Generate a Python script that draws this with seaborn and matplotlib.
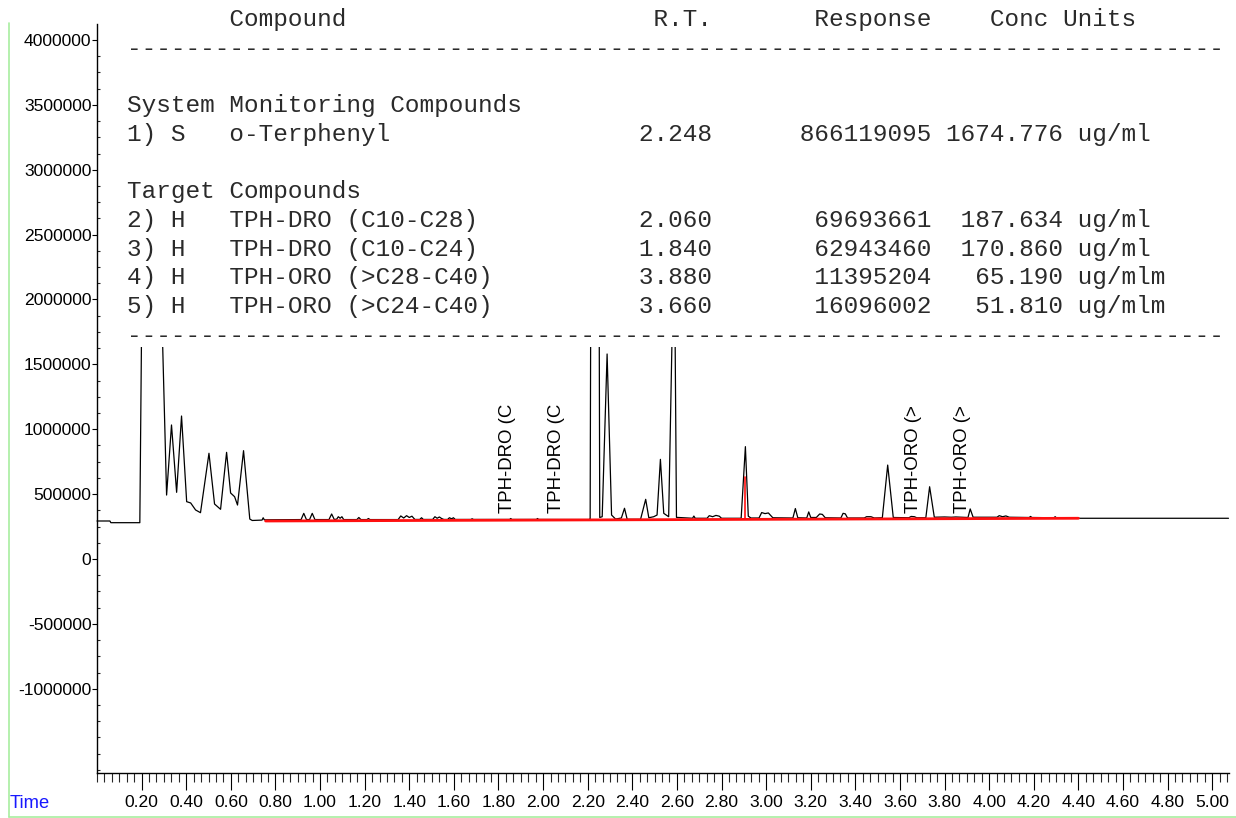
import matplotlib
matplotlib.use("Agg")
import numpy as np
import pandas as pd
import matplotlib.pyplot as plt
import seaborn as sns
from matplotlib import font_manager, ticker
from matplotlib.patches import Rectangle
from matplotlib.lines import Line2D

# ---------------------------------------------------------------- data
# Quantitation report
compound_no = [1, 2, 3, 4, 5]
compound_type = ["S", "H", "H", "H", "H"]
compound_name = ["o-Terphenyl", "TPH-DRO (C10-C28)", "TPH-DRO (C10-C24)",
                 "TPH-ORO (>C28-C40)", "TPH-ORO (>C24-C40)"]
ret_time = [2.248, 2.060, 1.840, 3.880, 3.660]
response = [866119095, 69693661, 62943460, 11395204, 16096002]
conc = [1674.776, 187.634, 170.860, 65.190, 51.810]
conc_units = ["ug/ml", "ug/ml", "ug/ml", "ug/mlm", "ug/mlm"]

# FID trace (time in min, response in counts), split by region
early_time = [0.000, 0.058, 0.062, 0.192, 0.201, 0.245, 0.289, 0.312, 0.334,
              0.357, 0.379, 0.402, 0.420, 0.442, 0.464, 0.502, 0.527, 0.554,
              0.581, 0.599, 0.617, 0.630, 0.657, 0.685, 0.696]
early_resp = [293000, 293000, 280000, 280000, 2000000, 9000000, 2000000, 493000,
              1033000, 514000, 1102000, 442000, 432000, 378000, 357000, 815000,
              424000, 383000, 822000, 509000, 480000, 416000, 835000, 308000,
              297000]

dro_time = [0.740, 0.745, 0.750, 0.915, 0.927, 0.939, 0.953, 0.965, 0.977,
            1.040, 1.052, 1.064, 1.075, 1.082, 1.090, 1.098, 1.106, 1.165,
            1.174, 1.183, 1.210, 1.217, 1.224, 1.350, 1.362, 1.375, 1.388,
            1.400, 1.412, 1.425, 1.447, 1.455, 1.463, 1.505, 1.515, 1.525,
            1.535, 1.545, 1.555, 1.572, 1.580, 1.590, 1.598, 1.606, 1.676,
            1.682, 1.688, 1.850, 1.855, 1.860, 1.970, 1.975, 1.980]
dro_resp = [300000, 318000, 302000, 304000, 352000, 304000, 304000, 352000,
            304000, 304000, 347000, 304000, 308000, 326000, 314000, 326000,
            304000, 304000, 320000, 304000, 304000, 312000, 304000, 304000,
            332000, 316000, 334000, 320000, 330000, 305000, 305000, 318000,
            305000, 305000, 326000, 314000, 324000, 312000, 305000, 305000,
            318000, 310000, 318000, 305000, 305000, 310000, 305000, 305000,
            312000, 305000, 305000, 312000, 305000]

surr_time = [2.206, 2.211, 2.216, 2.232, 2.249, 2.254, 2.265, 2.287, 2.307,
             2.325, 2.351, 2.365, 2.377, 2.437, 2.460, 2.474, 2.496, 2.511,
             2.526, 2.541, 2.563, 2.588, 2.598, 2.670, 2.676, 2.682]
surr_resp = [304000, 310000, 3500000, 8000000, 3500000, 320000, 326000, 1580000,
             339000, 308000, 316000, 391000, 306000, 306000, 460000, 318000,
             326000, 339000, 768000, 352000, 326000, 2600000, 321000, 314000,
             331000, 314000]

late_time = [2.735, 2.745, 2.760, 2.775, 2.790, 2.800, 2.888, 2.907, 2.920,
             2.932, 2.968, 2.980, 2.995, 3.010, 3.030, 3.120, 3.131, 3.142,
             3.182, 3.191, 3.200, 3.225, 3.240, 3.252, 3.265, 3.335, 3.345,
             3.355, 3.365, 3.440, 3.450, 3.470, 3.485, 3.521, 3.545, 3.570,
             3.640, 3.650, 3.665, 3.675, 3.716, 3.733, 3.754, 3.800, 3.830,
             3.850, 3.905, 3.915, 3.928, 4.035, 4.045, 4.060, 4.075, 4.090,
             4.180, 4.185, 4.192, 4.290, 4.296, 4.302, 4.400, 5.073]
late_resp = [314000, 334000, 326000, 336000, 330000, 314000, 314000, 866000,
             330000, 316000, 316000, 358000, 350000, 355000, 318000, 316000,
             389000, 318000, 316000, 363000, 320000, 320000, 347000, 344000,
             318000, 316000, 352000, 348000, 316000, 316000, 326000, 326000,
             316000, 318000, 724000, 320000, 318000, 328000, 326000, 318000,
             318000, 557000, 322000, 324000, 322000, 324000, 320000, 386000,
             322000, 322000, 334000, 326000, 332000, 322000, 320000, 328000,
             320000, 318000, 326000, 316000, 314000, 314000]

# integration baseline and DRO/ORO split
base_time = [0.756, 4.400]
base_resp = [293000, 314000]
split_time = [2.907, 2.907]
split_resp = [305000, 634000]

# display ceiling of the trace window
trace_ceiling = 1636000

# axis ticks
x_tick_labels = ["0.20", "0.40", "0.60", "0.80", "1.00", "1.20", "1.40", "1.60",
                 "1.80", "2.00", "2.20", "2.40", "2.60", "2.80", "3.00", "3.20",
                 "3.40", "3.60", "3.80", "4.00", "4.20", "4.40", "4.60", "4.80",
                 "5.00"]
y_tick_labels = ["4000000", "3500000", "3000000", "2500000", "2000000",
                 "1500000", "1000000", "500000", "0", "-500000", "-1000000"]

# ---------------------------------------------------------------- style
sns.set_style("ticks")
available = {f.name for f in font_manager.fontManager.ttflist}
if "Liberation Sans Narrow" in available:
    axis_font, axis_size = "Liberation Sans Narrow", 15.5
else:
    axis_font, axis_size = "Liberation Sans", 12.6
plt.rcParams["font.family"] = [axis_font, "DejaVu Sans"]
mono = ["Liberation Mono", "DejaVu Sans Mono"]

W, H = 1236, 818
fig = plt.figure(figsize=(W / 100, H / 100), dpi=100)
fig.patch.set_facecolor("white")
ax = fig.add_axes([97 / W, 45 / H, (1228.5 - 97) / W, (773 - 24) / H])
ax.set_facecolor("white")

trace = pd.DataFrame({
    "time": early_time + dro_time + surr_time + late_time,
    "response": early_resp + dro_resp + surr_resp + late_resp,
})
sns.lineplot(data=trace, x="time", y="response", ax=ax, color="black",
             linewidth=0.9, estimator=None, sort=False, zorder=3)
trace_line = ax.lines[-1]
trace_line.set_clip_path(Rectangle((-1, -3e6), 8, 3e6 + trace_ceiling,
                                   transform=ax.transData))

sns.lineplot(x=base_time, y=base_resp, ax=ax, color="#ff1010",
             linewidth=2.0, estimator=None, zorder=4)
sns.lineplot(x=split_time, y=split_resp, ax=ax, color="#ff1010",
             linewidth=1.2, estimator=None, sort=False, zorder=4)

ax.set_xlim(0, 5.073)
ax.set_ylim(-1649000, 4123000)
ax.set_xlabel("")
ax.set_ylabel("")
sns.despine(ax=ax, top=True, right=True)
for side in ("left", "bottom"):
    ax.spines[side].set_linewidth(1.0)
    ax.spines[side].set_color("black")

ax.xaxis.set_major_locator(ticker.FixedLocator([float(s) for s in x_tick_labels]))
ax.xaxis.set_major_formatter(ticker.FixedFormatter(x_tick_labels))
ax.xaxis.set_minor_locator(ticker.MultipleLocator(1 / 30))
ax.yaxis.set_major_locator(ticker.FixedLocator([int(s) for s in y_tick_labels]))
ax.yaxis.set_major_formatter(ticker.FixedFormatter(y_tick_labels))
ax.yaxis.set_minor_locator(ticker.MultipleLocator(125000))

ax.tick_params(axis="x", which="major", length=12, width=0.8, direction="out",
               pad=4, labelsize=axis_size, colors="black")
ax.tick_params(axis="x", which="minor", length=6.5, width=0.8, direction="out")
ax.tick_params(axis="y", which="major", length=3.5, width=0.8, direction="out",
               pad=0.5, labelsize=axis_size, colors="black")
ax.tick_params(axis="y", which="minor", length=2.5, width=0.8, direction="in")

# peak labels at the expected retention times of the target compounds
for ctype, name, rt in zip(compound_type, compound_name, ret_time):
    if ctype == "H":
        ax.text(rt, 355000, name[:10], rotation=90, ha="center", va="bottom",
                fontsize=13.4, family=["Liberation Sans", "DejaVu Sans"],
                color="black", zorder=5)

# ---------------------------------------------------------------- report text
x0 = 127


def text_row(k, s):
    fig.text(x0 / W, 1 - (26 + 28.7 * k) / H, s, family=mono, fontsize=17.55,
             color="#2a2a2a", ha="left", va="baseline")


header = " " * 7 + "Compound"
header = header.ljust(36) + "R.T."
header = header.ljust(47) + "Response"
header = header.ljust(59) + "Conc Units"
rule = "-" * 75

text_row(0, header)
text_row(1, rule)
text_row(3, "System Monitoring Compounds")
text_row(6, "Target Compounds")
text_row(11, rule)

row_k = {1: 4, 2: 7, 3: 8, 4: 9, 5: 10}
for no, ctype, name, rt, resp, c, unit in zip(compound_no, compound_type,
                                              compound_name, ret_time,
                                              response, conc, conc_units):
    line = f"{no}) {ctype}   {name}".ljust(35)
    line += f"{rt:.3f}{resp:>15d} {c:8.3f} {unit}"
    text_row(row_k[no], line)

# axis caption and window frame
fig.text(10 / W, 1 - 803 / H, "Time", color="#1818ff", ha="left", va="center",
         fontsize=axis_size + 0.6)
fig.add_artist(Line2D([8.5 / W, 8.5 / W], [1 - 23 / H, 1 - 816.5 / H],
                      color="#a8eea0", linewidth=1.2, transform=fig.transFigure))
fig.add_artist(Line2D([8.5 / W, 1.0], [1 - 816.5 / H, 1 - 816.5 / H],
                      color="#a8eea0", linewidth=1.2, transform=fig.transFigure))

fig.savefig("out.png", dpi=100, facecolor="white")
